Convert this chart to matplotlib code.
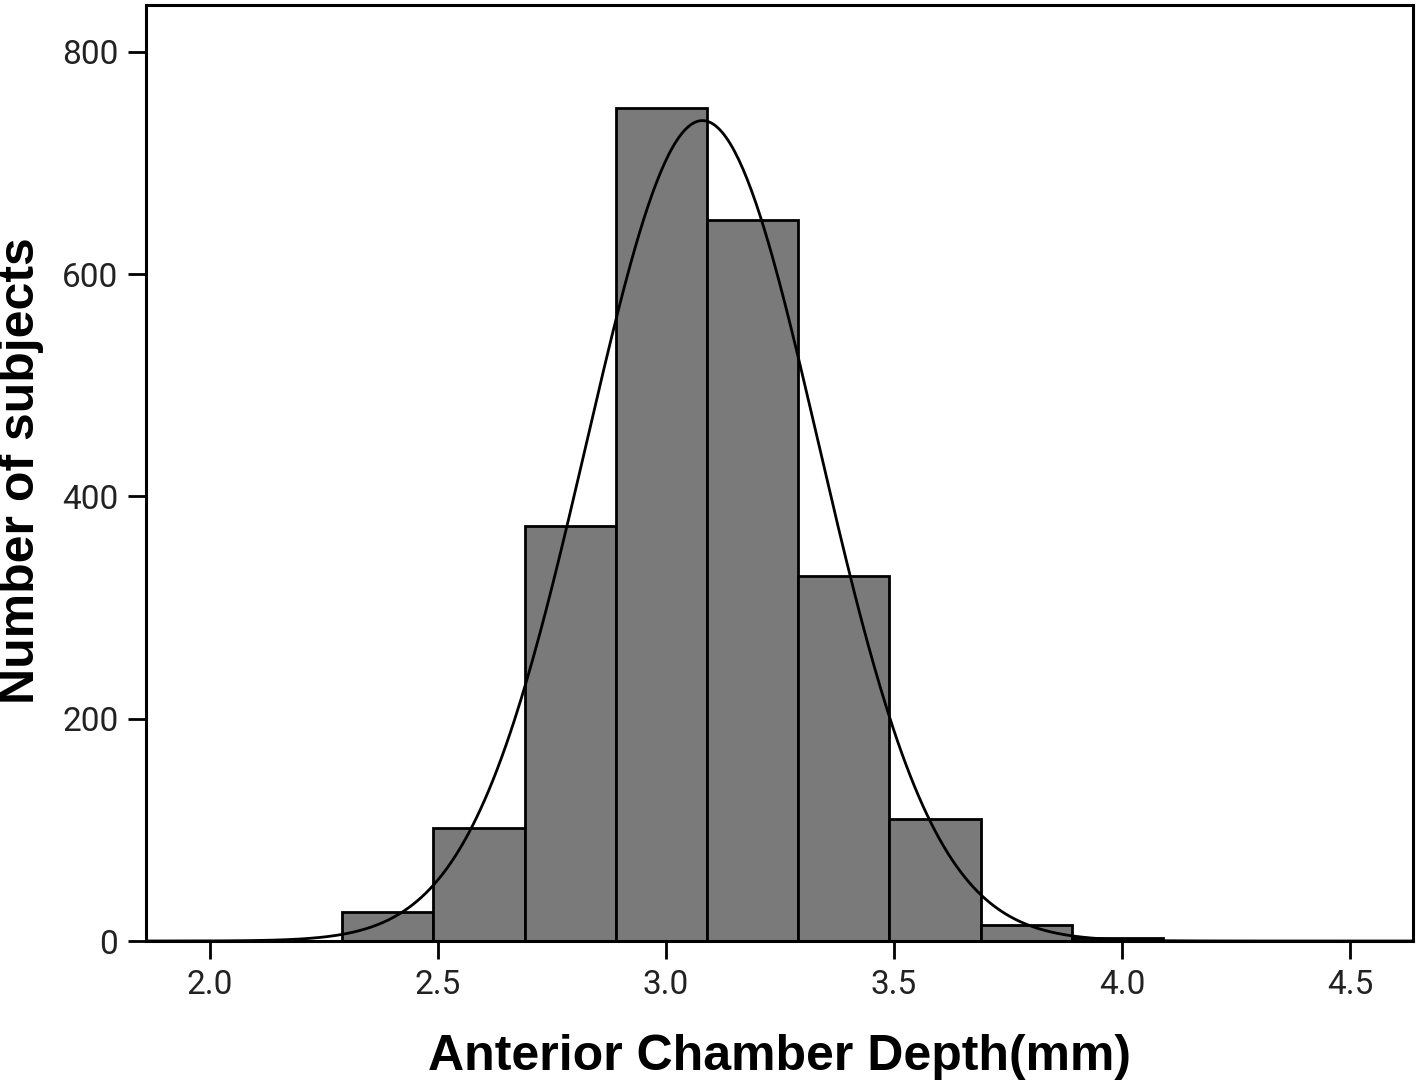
import numpy as np
import matplotlib
matplotlib.use("Agg")
import matplotlib.pyplot as plt
from matplotlib import font_manager

# histogram of anterior chamber depth
bin_edges = [2.29, 2.49, 2.69, 2.89, 3.09, 3.29, 3.49, 3.69, 3.89, 4.09]
counts = [26, 102, 373, 749, 649, 328, 110, 14, 3]

# fitted normal curve parameters
acd_mean = 3.08
acd_sd = 0.2545
n_total = sum(counts)
bin_width = 0.2

xticks = [2.0, 2.5, 3.0, 3.5, 4.0, 4.5]
yticks = [0, 200, 400, 600, 800]

names = {f.name for f in font_manager.fontManager.ttflist}
tick_font = "Liberation Sans Narrow" if "Liberation Sans Narrow" in names else "Roboto"

fig = plt.figure(figsize=(14.18, 10.82), dpi=100)
ax = fig.add_axes([0.103, 0.1303, 0.8935, 0.8651])

lefts = bin_edges[:-1]
widths = np.diff(bin_edges)
ax.bar(lefts, counts, width=widths, align="edge", color="#7a7a7a",
       edgecolor="black", linewidth=2.0, zorder=2)

xs = np.linspace(1.86, 4.64, 600)
ys = n_total * bin_width / (acd_sd * np.sqrt(2 * np.pi)) * np.exp(-0.5 * ((xs - acd_mean) / acd_sd) ** 2)
ax.plot(xs, ys, color="black", linewidth=2.0, zorder=3)

ax.set_xlim(1.86, 4.638)
ax.set_ylim(0, 842)
ax.set_xticks(xticks)
ax.set_xticklabels([f"{t:.1f}" for t in xticks])
ax.set_yticks(yticks)

for s in ax.spines.values():
    s.set_linewidth(2.2)
ax.tick_params(direction="out", length=13, width=2.0, pad=7, labelsize=24)
for lab in ax.get_xticklabels() + ax.get_yticklabels():
    lab.set_fontfamily(tick_font)
    lab.set_color("#222222")

ax.set_xlabel("Anterior Chamber Depth(mm)", fontsize=36, fontweight="bold",
              family="Liberation Sans", labelpad=24)
fig.text(0.015, 0.565, "Number of subjects", rotation=90, fontsize=36,
         fontweight="bold", family="Liberation Sans", ha="center", va="center")

fig.savefig("out.png", dpi=100)
